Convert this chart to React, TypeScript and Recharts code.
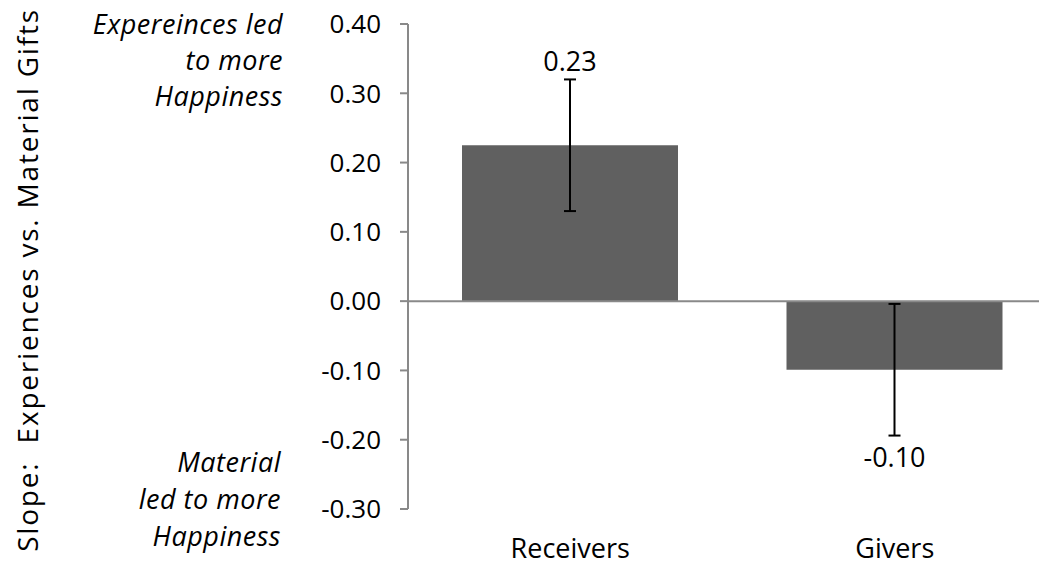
import React from "react";
import { BarChart, Bar, XAxis, YAxis, ErrorBar, ReferenceLine, LabelList } from "recharts";

const groups = ["Receivers", "Givers"];
const slopes = [0.225, -0.099];
const errors = [0.095, 0.095];
const yTicks = [-0.3, -0.2, -0.1, 0, 0.1, 0.2, 0.3, 0.4];

const data = groups.map((g, i) => ({ name: g, slope: slopes[i], err: errors[i] }));

const FONT = "'Open Sans', 'Noto Sans', sans-serif";
const AXIS = "#898989";

// label sits just past the end of the error bar
function EndLabel(props: any) {
  const { x, y, width, height, value, index } = props;
  if (value == null) return null;
  const top = Math.min(y, y + height);
  const bottom = Math.max(y, y + height);
  const ppu = Math.abs(height / value);
  const e = errors[index] * ppu;
  const cx = x + width / 2;
  const ty = value >= 0 ? top - e - 8 : bottom + e + 31;
  return (
    <text x={cx} y={ty} textAnchor="middle" fontSize={27} fontFamily={FONT} fill="#000">
      {Number(value).toFixed(2)}
    </text>
  );
}

const noteStyle: React.CSSProperties = {
  position: "absolute",
  left: 0,
  fontFamily: FONT,
  fontStyle: "italic",
  fontSize: 27,
  letterSpacing: 0.5,
  textAlign: "right",
  color: "#000",
};

export default function App() {
  return (
    <div style={{ position: "relative", width: 1039, height: 556, overflow: "hidden", background: "#fff" }}>
      <BarChart width={1058} height={556} data={data} margin={{ top: 16, right: 9, left: 0, bottom: 0 }}>
        <XAxis
          dataKey="name"
          axisLine={false}
          tickLine={false}
          tickSize={0}
          tickMargin={30}
          height={55}
          tick={{ fontSize: 27, fontFamily: FONT, fill: "#000" }}
        />
        <YAxis
          width={400}
          domain={[-0.3, 0.4]}
          ticks={yTicks}
          interval={0}
          allowDataOverflow
          tickFormatter={(v: number) => v.toFixed(2)}
          stroke={AXIS}
          axisLine={{ stroke: AXIS, strokeWidth: 2 }}
          tickLine={{ stroke: AXIS, strokeWidth: 2 }}
          tickSize={8}
          tickMargin={19}
          tick={{ fontSize: 26, fontFamily: FONT, fill: "#000" }}
        />
        <ReferenceLine y={0} stroke={AXIS} strokeWidth={2} />
        <Bar dataKey="slope" fill="#606060" barSize={216} isAnimationActive={false}>
          <ErrorBar dataKey="err" width={6} stroke="#000" strokeWidth={2} direction="y" />
          <LabelList dataKey="slope" content={EndLabel} />
        </Bar>
      </BarChart>

      <div style={{ ...noteStyle, width: 275, top: -2, lineHeight: "36px" }}>
        Expereinces led
        <br />
        to more
        <br />
        Happiness
      </div>
      <div style={{ ...noteStyle, width: 273, top: 435, lineHeight: "37px" }}>
        Material
        <br />
        led to more
        <br />
        Happiness
      </div>
      <div
        style={{
          position: "absolute",
          left: 19,
          top: 272,
          transform: "translate(-50%, -50%) rotate(-90deg)",
          whiteSpace: "pre",
          fontFamily: FONT,
          fontSize: 28,
          letterSpacing: 1.8,
          color: "#000",
        }}
      >
        {"Slope:  Experiences vs. Material Gifts"}
      </div>
    </div>
  );
}
